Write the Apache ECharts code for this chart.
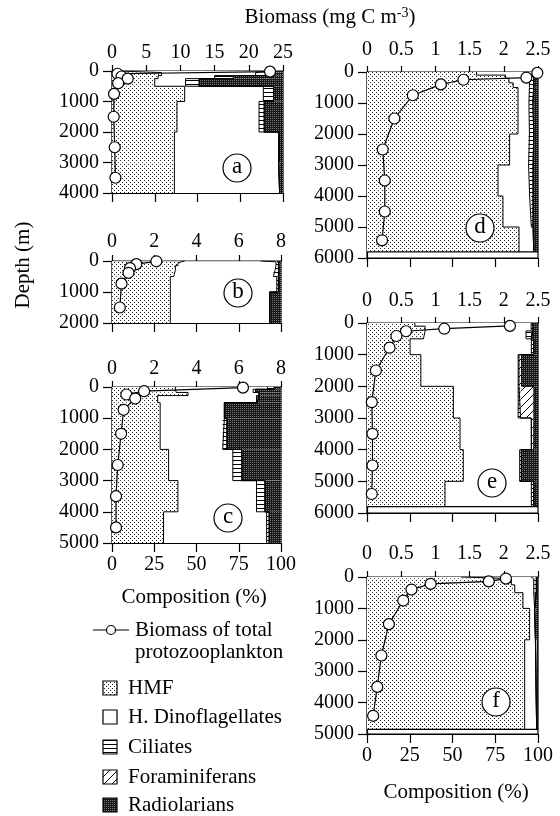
<!DOCTYPE html>
<html><head><meta charset="utf-8">
<script src="https://cdn.jsdelivr.net/npm/echarts@6/dist/echarts.min.js"></script>
<style>html,body{margin:0;padding:0;background:#fff}#c{width:560px;height:816px}</style>
</head><body><div id="c"></div>
<script>
// ---------- DATA ----------
// composition groups (stack order)
const groupNames = ['HMF','H. Dinoflagellates','Ciliates','Foraminiferans','Radiolarians'];

// Panel a
const edgesA = [0,50,150,250,500,1000,2000,3000,4000];
const hmfA  = [3, 29, 27, 25, 42.5, 38, 36.5, 36.5];
const dinoA = [88, 55, 33, 18, 46, 48, 61, 61.5];
const cilA  = [4, 7, 11, 8, 6, 3, 0, 0];
const foraA = [0, 0, 0, 0, 0, 0, 0, 0];
const radA  = [5, 9, 29, 49, 5.5, 11, 2.5, 2];
const bioDepthA = [20, 90, 180, 250, 400, 750, 1500, 2500, 3500];
const bioA      = [23.1, 0.8, 1.4, 2.3, 0.9, 0.3, 0.25, 0.4, 0.5];

// Panel b
const edgesB = [0,25,75,150,300,500,1000,2000];
const hmfB  = [43, 41, 39, 37.5, 36.5, 34.5, 34.5];
const dinoB = [45, 56, 58, 59, 59, 63, 58.8];
const cilB  = [10, 1.5, 1.5, 2, 3, 1, 0];
const foraB = [0, 0, 0, 0, 0, 0, 0];
const radB  = [2, 1.5, 1.5, 1.5, 1.5, 1.5, 6.7];
const bioDepthB = [10, 100, 230, 380, 730, 1500];
const bioB      = [2.1, 1.15, 0.85, 0.78, 0.45, 0.37];

// Panel c
const edgesC = [0,75,175,275,500,1000,2000,3000,4000,5000];
const hmfC  = [37.5, 38, 45, 27, 28.5, 28.5, 33.5, 39, 30.5];
const dinoC = [54.5, 45.5, 42, 58.5, 38, 37, 38, 46.5, 61];
const cilC  = [4, 1.5, 0, 0.5, 0, 2.5, 5.3, 5, 1.5];
const foraC = [0, 0, 0, 0, 0, 0, 0, 0, 0];
const radC  = [4, 15, 13, 14, 33.5, 32, 23.2, 9.5, 7];
const bioDepthC = [20, 135, 240, 370, 730, 1500, 2500, 3500, 4500];
const bioC      = [6.2, 1.52, 0.68, 1.1, 0.55, 0.43, 0.27, 0.19, 0.19];

// Panel d
const edgesD = [0,100,200,350,500,1000,2000,3000,4000,5000,5800];
const hmfD  = [64, 81, 83, 85.5, 88.3, 88.3, 83.4, 76.6, 79.5, 88.9];
const dinoD = [33, 14, 12, 9.5, 6.4, 6.7, 11.1, 18.5, 16.6, 8.6];
const cilD  = [0.5, 2.5, 2.5, 2.5, 2.3, 2.5, 2.6, 2, 1, 0];
const foraD = [0, 0, 0, 0, 0, 0, 0, 0, 0, 0];
const radD  = [2.5, 2.5, 2.5, 2.5, 3, 2.5, 2.9, 2.9, 2.9, 2.5];
const bioDepthD = [30, 180, 250, 400, 750, 1500, 2500, 3500, 4500, 5430];
const bioD      = [2.49, 2.33, 1.41, 1.08, 0.67, 0.40, 0.23, 0.26, 0.26, 0.22];

// Panel e
const edgesE = [0,100,250,500,1000,2000,3000,4000,5000,5800];
const hmfE  = [28, 34, 33, 25.2, 31.5, 50.5, 54.4, 56.3, 45.6];
const dinoE = [68, 62, 60, 70.9, 56.9, 37.9, 41.7, 33, 50.5];
const cilE  = [1, 1, 3, 1.4, 0.5, 1.4, 0, 1, 1.4];
const foraE = [0, 0, 0, 0, 1.5, 7.8, 1.4, 0, 0];
const radE  = [3, 3, 4, 2.5, 9.6, 2.4, 2.5, 9.7, 2.5];
const bioDepthE = [90, 180, 260, 410, 780, 1500, 2500, 3500, 4500, 5400];
const bioE      = [2.09, 1.13, 0.57, 0.43, 0.33, 0.13, 0.07, 0.08, 0.08, 0.07];

// Panel f
const edgesF = [0,50,250,500,1000,2000,4850];
const hmfF  = [55, 84.4, 86.4, 91.2, 95.1, 92.2];
const dinoF = [41, 13.1, 11.1, 6.8, 3.4, 7];
const cilF  = [3, 1.5, 1.5, 0, 0, 0];
const foraF = [0, 0, 0, 0, 0, 0];
const radF  = [1, 1, 1, 2, 1.5, 0.8];
const bioDepthF = [50, 140, 220, 400, 750, 1500, 2500, 3500, 4420];
const bioF      = [2.03, 1.78, 0.93, 0.65, 0.53, 0.32, 0.21, 0.15, 0.09];

// axis ranges / tick steps
const depthMax   = [4000, 2000, 5000, 6000, 6000, 5000];
const biomassMax = [25, 8, 8, 2.5, 2.5, 2.5];
const biomassStep= [5, 2, 2, 0.5, 0.5, 0.5];
const depthStep = 1000, compMax = 100, compStep = 25;
const panelLetters = ['a','b','c','d','e','f'];

// ---------- STYLE ----------
const FONT = 'Liberation Serif';
function pat(w,h,draw){const c=document.createElement('canvas');c.width=w;c.height=h;const g=c.getContext('2d');draw(g);return {image:c,repeat:'repeat'};}
const FILL = [
  pat(4,4,g=>{g.fillStyle='#fff';g.fillRect(0,0,4,4);g.fillStyle='#222';g.fillRect(0,0,1,1);g.fillRect(2,2,1,1);}),
  '#ffffff',
  pat(4,4,g=>{g.fillStyle='#fff';g.fillRect(0,0,4,4);g.fillStyle='#000';g.fillRect(0,0,4,1);}),
  pat(8,8,g=>{g.fillStyle='#fff';g.fillRect(0,0,8,8);g.strokeStyle='#000';g.lineWidth=1;g.beginPath();g.moveTo(0,8);g.lineTo(8,0);g.moveTo(-2,2);g.lineTo(2,-2);g.moveTo(6,10);g.lineTo(10,6);g.stroke();}),
  pat(2,2,g=>{g.fillStyle='#161616';g.fillRect(0,0,2,2);g.fillStyle='#7a7a7a';g.fillRect(0,0,1,1);})
];

const panels = [
  {edges:edgesA, comp:[hmfA,dinoA,cilA,foraA,radA], bd:bioDepthA, bv:bioA, grid:{left:112,top:71,width:171,height:122}, compLabels:false, topMargin:8, letter:[237,168]},
  {edges:edgesB, comp:[hmfB,dinoB,cilB,foraB,radB], bd:bioDepthB, bv:bioB, grid:{left:112,top:261,width:169,height:62}, compLabels:false, topMargin:9, letter:[238,293]},
  {edges:edgesC, comp:[hmfC,dinoC,cilC,foraC,radC], bd:bioDepthC, bv:bioC, grid:{left:112,top:387,width:169,height:156}, compLabels:true, topMargin:8, letter:[228,518]},
  {edges:edgesD, comp:[hmfD,dinoD,cilD,foraD,radD], bd:bioDepthD, bv:bioD, grid:{left:367,top:72,width:171,height:186}, compLabels:false, topMargin:12, letter:[480,228]},
  {edges:edgesE, comp:[hmfE,dinoE,cilE,foraE,radE], bd:bioDepthE, bv:bioE, grid:{left:367,top:323,width:171,height:190}, compLabels:false, topMargin:12, letter:[492,483]},
  {edges:edgesF, comp:[hmfF,dinoF,cilF,foraF,radF], bd:bioDepthF, bv:bioF, grid:{left:367,top:577,width:171,height:157}, compLabels:true, topMargin:13, letter:[496,702]}
];

const lbl = {color:'#000', fontFamily:FONT, fontSize:20, formatter:(v)=>String(v)};
const grid=[], xAxis=[], yAxis=[], series=[];
panels.forEach((p,i)=>{
  grid.push(Object.assign({show:true, borderColor:'#000', borderWidth:1.2, backgroundColor:'transparent'}, p.grid));
  const xb = xAxis.length, yb = yAxis.length;
  xAxis.push({type:'value', gridIndex:i, position:'top', min:0, max:biomassMax[i], interval:biomassStep[i],
    axisLine:{show:true,onZero:false,lineStyle:{color:'#000',width:1.2}},
    axisTick:{show:true,length:6,lineStyle:{color:'#000',width:1.2}},
    axisLabel:Object.assign({margin:p.topMargin}, lbl), splitLine:{show:false}});
  xAxis.push({type:'value', gridIndex:i, position:'bottom', min:0, max:compMax, interval:compStep,
    axisLine:{show:true,onZero:false,lineStyle:{color:'#000',width:1.2}},
    axisTick:{show:true,length:9,lineStyle:{color:'#000',width:1.2}},
    axisLabel:Object.assign({show:p.compLabels, margin:12}, lbl), splitLine:{show:false}});
  yAxis.push({type:'value', gridIndex:i, position:'left', inverse:true, min:0, max:depthMax[i], interval:depthStep,
    axisLine:{show:true,onZero:false,lineStyle:{color:'#000',width:1.2}},
    axisTick:{show:true,length:9,lineStyle:{color:'#000',width:1.2}},
    axisLabel:Object.assign({margin:13}, lbl), splitLine:{show:false}});
  yAxis.push({type:'value', gridIndex:i, position:'left', inverse:true, min:0, max:depthMax[i], interval:depthStep,
    axisLine:{show:false,onZero:false}, axisTick:{show:true,inside:true,length:4,lineStyle:{color:'#000',width:1.2}},
    axisLabel:{show:false}, splitLine:{show:false}});

  // stacked composition rectangles
  const rects = [];
  const nb = p.edges.length-1;
  for (let b=0;b<nb;b++){
    let cum=0;
    for (let g=0;g<5;g++){
      const v = p.comp[g][b];
      if (v>0) rects.push([cum, cum+v, p.edges[b], p.edges[b+1], g]);
      cum += v;
    }
  }
  series.push({type:'custom', xAxisIndex:xb+1, yAxisIndex:yb, data:rects, silent:true, z:1,
    encode:{x:[0,1], y:[2,3]},
    renderItem:(params, api)=>{
      const p0 = api.coord([api.value(0), api.value(2)]);
      const p1 = api.coord([api.value(1), api.value(3)]);
      return {type:'rect', shape:{x:p0[0], y:p0[1], width:p1[0]-p0[0], height:p1[1]-p0[1]},
        style:{fill:FILL[api.value(4)], stroke:null}};
    }});
  // boundary outlines between groups
  for (let k=1;k<5;k++){
    const pts=[];
    for (let b=0;b<nb;b++){
      let c=0; for (let g=0;g<k;g++) c+=p.comp[g][b];
      pts.push([c, p.edges[b]], [c, p.edges[b+1]]);
    }
    series.push({type:'line', xAxisIndex:xb+1, yAxisIndex:yb, data:pts, symbol:'none', silent:true, z:3,
      lineStyle:{color:'#000', width:1}});
  }
  const last = p.edges[nb];
  if (last < depthMax[i]) {
    series.push({type:'line', xAxisIndex:xb+1, yAxisIndex:yb, data:[[0,last],[compMax,last]], symbol:'none', silent:true, z:3,
      lineStyle:{color:'#000', width:1.2}});
  }
  // biomass profile
  series.push({type:'line', xAxisIndex:xb, yAxisIndex:yb, data:p.bd.map((d,j)=>[p.bv[j], d]),
    symbol:'circle', symbolSize:11, z:6, clip:false,
    lineStyle:{color:'#000', width:1.2}, itemStyle:{color:'#fff', borderColor:'#000', borderWidth:1.2}});
});

// ---------- GRAPHICS (labels, legend) ----------
const T = (x,y,text,extra)=>Object.assign({type:'text', x:x, y:y, z:20,
  style:Object.assign({text:text, fill:'#000', fontFamily:FONT, fontSize:21, align:'left', verticalAlign:'middle'}, extra||{})});
const graphic = [];
graphic.push({type:'text', x:330, y:17, z:20, style:{text:'Biomass (mg C m{sup|-3})', fill:'#000', fontFamily:FONT, fontSize:21,
  align:'center', verticalAlign:'middle', rich:{sup:{fontFamily:FONT, fontSize:14, verticalAlign:'top', fill:'#000'}}}});
graphic.push(Object.assign(T(23,265,'Depth (m)',{align:'center'}), {rotation:Math.PI/2}));
graphic.push(T(194,597,'Composition (%)',{align:'center'}));
graphic.push(T(456,792,'Composition (%)',{align:'center'}));
panels.forEach((p,i)=>{
  graphic.push({type:'circle', z:20, shape:{cx:p.letter[0], cy:p.letter[1], r:14}, style:{fill:'#fff', stroke:'#000', lineWidth:1.2}});
  graphic.push(T(p.letter[0], p.letter[1]-1, panelLetters[i], {align:'center', fontSize:23}));
});
// legend
graphic.push({type:'line', z:20, shape:{x1:93,y1:630,x2:129,y2:630}, style:{stroke:'#000', lineWidth:1.2}});
graphic.push({type:'circle', z:21, shape:{cx:111,cy:630,r:4.5}, style:{fill:'#fff', stroke:'#000', lineWidth:1.2}});
graphic.push(T(135,630,'Biomass of total'));
graphic.push(T(135,652,'protozooplankton'));
const legendY = [688, 717, 747, 777, 805];
groupNames.forEach((n,j)=>{
  graphic.push({type:'rect', z:20, shape:{x:103, y:legendY[j]-7, width:14, height:14}, style:{fill:FILL[j], stroke:'#000', lineWidth:1.2}});
  graphic.push(T(128, legendY[j], n));
});

const chart = echarts.init(document.getElementById('c'), null, {renderer:'canvas'});
chart.setOption({animation:false, backgroundColor:'#fff', grid, xAxis, yAxis, series, graphic});
</script></body></html>
